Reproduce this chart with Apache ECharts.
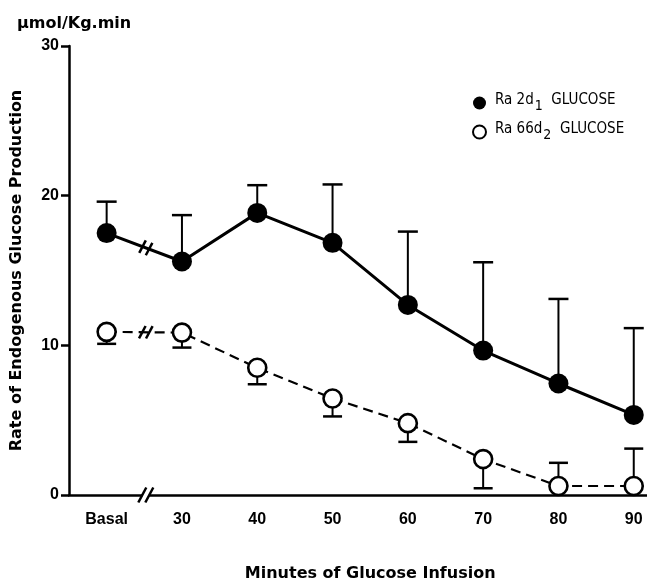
<!DOCTYPE html>
<html><head><meta charset="utf-8">
<script src="https://cdn.jsdelivr.net/npm/echarts@6/dist/echarts.min.js"></script>
<style>html,body{margin:0;padding:0;background:#fff}#c{width:647px;height:585px}</style>
</head><body><div id="c"></div>
<script>
// ---- data ----
const categories = ['Basal', '30', '40', '50', '60', '70', '80', '90'];
const filledName = 'Ra 2d1 GLUCOSE';
const openName = 'Ra 66d2 GLUCOSE';
const filledMean = [17.5, 15.6, 18.85, 16.85, 12.7, 9.65, 7.45, 5.35];
const filledErr  = [2.1, 3.1, 1.85, 3.9, 4.9, 5.9, 5.65, 5.8];
const filledErrDir = [1, 1, 1, 1, 1, 1, 1, 1];
const openMean = [10.9, 10.85, 8.5, 6.45, 4.8, 2.4, 0.6, 0.6];
const openErr  = [0.8, 1.0, 1.1, 1.2, 1.25, 1.95, 1.55, 2.5];
const openErrDir = [-1, -1, -1, -1, -1, -1, 1, 1];
const yMin = 0, yMax = 30, yStep = 10;
const yUnit = 'μmol/Kg.min';
const yTitle = 'Rate of Endogenous Glucose Production';
const xTitle = 'Minutes of Glucose Infusion';

const HEAVY = 'DejaVu Sans';
const BOLD = 'Liberation Sans';
const NARROW = "'Liberation Sans Narrow', 'DejaVu Sans Condensed', 'Liberation Sans', sans-serif";

function errRenderer(radius, capHalf) {
  return function (params, api) {
    const x = api.value(0), y = api.value(1), e = api.value(2), dir = api.value(3);
    const c = api.coord([x, y]);
    const end = api.coord([x, y + dir * e]);
    const y0 = c[1] - dir * radius;
    return {
      type: 'group', children: [
        { type: 'line', shape: { x1: c[0], y1: y0, x2: c[0], y2: end[1] }, style: { stroke: '#000', lineWidth: 2 } },
        { type: 'line', shape: { x1: c[0] - capHalf, y1: end[1], x2: c[0] + capHalf, y2: end[1] }, style: { stroke: '#000', lineWidth: 2.5 } }
      ]
    };
  };
}

function breakRenderer(params, api) {
  const ya = api.value(0), yb = api.value(1), len = api.value(2);
  const p0 = api.coord([0, ya]), p1 = api.coord([1, yb]);
  const mx = p0[0] + (p1[0] - p0[0]) * 0.52, my = p0[1] + (p1[1] - p0[1]) * 0.52;
  const ang = Math.atan2(p1[1] - p0[1], p1[0] - p0[0]);
  const ux = Math.cos(ang), uy = Math.sin(ang);
  const sx = Math.cos(62 * Math.PI / 180), sy = -Math.sin(62 * Math.PI / 180);
  const off = 3.5;
  const kids = [
    { type: 'line', shape: { x1: mx - ux * off, y1: my - uy * off, x2: mx + ux * off, y2: my + uy * off }, style: { stroke: '#fff', lineWidth: 7 } }
  ];
  [-off, off].forEach(function (o) {
    const cx = mx + ux * o, cy = my + uy * o;
    kids.push({ type: 'line', shape: { x1: cx - sx * len / 2, y1: cy - sy * len / 2, x2: cx + sx * len / 2, y2: cy + sy * len / 2 }, style: { stroke: '#000', lineWidth: 2.5 } });
  });
  return { type: 'group', children: kids };
}

const chart = echarts.init(document.getElementById('c'), null, { renderer: 'canvas' });
chart.setOption({
  animation: false,
  backgroundColor: '#fff',
  title: {
    text: yUnit, left: 12, top: 11,
    textStyle: { fontFamily: HEAVY, fontWeight: 'bold', fontSize: 16, color: '#000' }
  },
  legend: {
    orient: 'vertical', left: 467, top: 88, itemGap: 9, itemWidth: 13, itemHeight: 13,
    icon: 'circle',
    data: [filledName, openName],
    formatter: function (name) {
      return name === filledName ? '{t|Ra 2d}{s|1}{t|  GLUCOSE}' : '{t|Ra 66d}{s|2}{t|  GLUCOSE}';
    },
    textStyle: {
      color: '#000',
      padding: [0, 0, 0, 4],
      rich: {
        t: { fontFamily: NARROW, fontSize: 15, color: '#000', verticalAlign: 'top', lineHeight: 17 },
        s: { fontFamily: NARROW, fontSize: 14, color: '#000', verticalAlign: 'top', padding: [6, 0, 0, 1] }
      }
    }
  },
  grid: { left: 69, top: 46, bottom: 90, right: -24.4, containLabel: false, outerBoundsMode: 'none' },
  xAxis: {
    type: 'category', data: categories, boundaryGap: true,
    axisLine: { lineStyle: { color: '#000', width: 2.5 } },
    axisTick: { alignWithLabel: true, length: 8, lineStyle: { color: '#000', width: 2.5 } },
    axisLabel: { color: '#000', fontFamily: BOLD, fontWeight: 'bold', fontSize: 16, margin: 17, hideOverlap: false },
    name: xTitle, nameLocation: 'middle', nameGap: 71,
    nameTextStyle: { color: '#000', fontFamily: HEAVY, fontWeight: 'bold', fontSize: 16 }
  },
  yAxis: {
    type: 'value', min: yMin, max: yMax, interval: yStep,
    axisLine: { show: true, lineStyle: { color: '#000', width: 2.5 } },
    axisTick: { show: true, length: 8, lineStyle: { color: '#000', width: 2.5 } },
    axisLabel: { color: '#000', fontFamily: BOLD, fontWeight: 'bold', fontSize: 16, margin: 10 },
    splitLine: { show: false },
    name: yTitle, nameLocation: 'middle', nameGap: 44,
    nameTextStyle: { color: '#000', fontFamily: HEAVY, fontWeight: 'bold', fontSize: 16 }
  },
  series: [
    {
      type: 'custom', name: 'filledErr', z: 1, silent: true,
      renderItem: errRenderer(9, 10),
      data: filledMean.map(function (v, i) { return [i, v, filledErr[i], filledErrDir[i]]; })
    },
    {
      type: 'custom', name: 'openErr', z: 1, silent: true,
      renderItem: errRenderer(9, 9.5),
      data: openMean.map(function (v, i) { return [i, v, openErr[i], openErrDir[i]]; })
    },
    {
      type: 'line', name: filledName, z: 3, data: filledMean,
      symbol: 'circle', symbolSize: 20,
      itemStyle: { color: '#000' },
      lineStyle: { color: '#000', width: 3 }
    },
    {
      type: 'line', name: openName, z: 3, data: openMean,
      symbol: 'circle', symbolSize: 18,
      itemStyle: { color: '#fff', borderColor: '#000', borderWidth: 2.6 },
      lineStyle: { color: '#000', width: 2.2, type: [10, 6] }
    },
    {
      type: 'custom', name: 'breaks', z: 2, silent: true,
      renderItem: breakRenderer,
      data: [[filledMean[0], filledMean[1], 14], [openMean[0], openMean[1], 14], [yMin, yMin, 17]]
    }
  ]
});
</script>
</body></html>
